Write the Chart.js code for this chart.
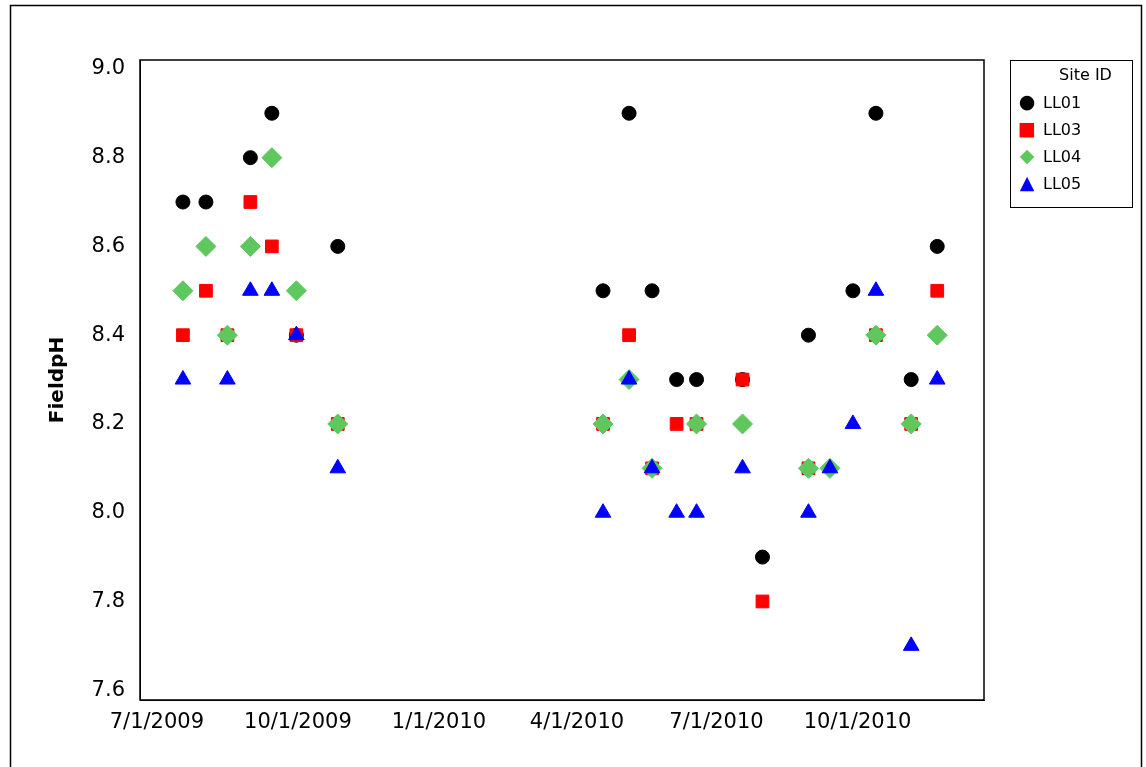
<!DOCTYPE html>
<html><head><meta charset="utf-8">
<script src="https://cdn.jsdelivr.net/npm/chart.js@4/dist/chart.umd.min.js"></script>
<style>
body{margin:0;background:#fff;font-family:"DejaVu Sans",sans-serif}
#wrap{position:relative;width:1146px;height:767px}
#legend{position:absolute;left:1010px;top:60px;width:123px;height:148px;border:1px solid #000;box-sizing:border-box;font-size:16px}
#legend div{height:27px;line-height:27px}
#legend span{display:inline-block;width:32px;text-align:center;font-size:19px}
</style></head><body>
<div id="wrap"><canvas id="c" width="1146" height="767"></canvas>
<div id="legend">
<div style="text-align:center;padding-left:28px">Site ID</div>
<div><span style="color:#000">●</span>LL01</div>
<div><span style="color:#f00">■</span>LL03</div>
<div><span style="color:#5ec85e">◆</span>LL04</div>
<div><span style="color:#00f">▲</span>LL05</div>
</div></div>
<script>
// sampling dates and pH per site (null = no reading)
const dates = ['2009-07-18','2009-08-02','2009-08-16','2009-08-31','2009-09-14','2009-09-30','2009-10-27',
  '2010-04-18','2010-05-05','2010-05-20','2010-06-05','2010-06-18','2010-07-18','2010-07-31','2010-08-30','2010-09-13','2010-09-28','2010-10-13','2010-11-05','2010-11-22'];
const ll01 = [8.7,8.7,8.4,8.8,8.9,8.4,8.6, 8.5,8.9,8.5,8.3,8.3,8.3,7.9,8.4,null,8.5,8.9,8.3,8.6];
const ll03 = [8.4,8.5,8.4,8.7,8.6,8.4,8.2, 8.2,8.4,8.1,8.2,8.2,8.3,7.8,8.1,null,null,8.4,8.2,8.5];
const ll04 = [8.5,8.6,8.4,8.6,8.8,8.5,8.2, 8.2,8.3,8.1,null,8.2,8.2,null,8.1,8.1,null,8.4,8.2,8.4];
const ll05 = [8.3,null,8.3,8.5,8.5,8.4,8.1, 8.0,8.3,8.1,8.0,8.0,8.1,null,8.0,8.1,8.2,8.5,7.7,8.3];
const tickDates = ['2009-07-01','2009-10-01','2010-01-01','2010-04-01','2010-07-01','2010-10-01'];
const yTicks = [7.6,7.8,8.0,8.2,8.4,8.6,8.8,9.0];

const day = s => Date.parse(s) / 86400000;
const pts = arr => dates.map((d, i) => ({x: day(d), y: arr[i]})).filter(p => p.y !== null);
const x0 = day('2009-07-01');

const frame = {
  id: 'frame',
  beforeDraw(c) {
    const g = c.ctx; g.save(); g.fillStyle = '#fff'; g.fillRect(0, 0, c.width, c.height);
    g.strokeStyle = '#000'; g.lineWidth = 1.5; g.strokeRect(10.5, 5.5, 1131, 790); g.restore();
  },
  afterDatasetsDraw(c) {
    const a = c.chartArea, g = c.ctx; g.save(); g.strokeStyle = '#000'; g.lineWidth = 1.5;
    g.strokeRect(a.left, a.top, a.right - a.left, a.bottom - a.top); g.restore();
  }
};

// lower order is drawn on top: LL05 over LL04 over LL03 over LL01
const ds = (label, data, color, style, r, order) => ({label, data: pts(data), backgroundColor: color, borderColor: color,
  pointStyle: style, pointRadius: r, pointHoverRadius: r, order});

new Chart(document.getElementById('c'), {
  type: 'scatter',
  data: {datasets: [
    ds('LL01', ll01, '#000000', 'circle', 7, 4),
    ds('LL03', ll03, '#ff0000', 'rect', 9, 3),
    ds('LL04', ll04, '#5ec85e', 'rectRot', 10, 2),
    ds('LL05', ll05, '#0000ff', 'triangle', 9, 1)
  ]},
  options: {
    responsive: false, animation: false,
    layout: {padding: {top: 60, right: 162, left: 42, bottom: 0}},
    plugins: {legend: {display: false}, tooltip: {enabled: false}},
    scales: {
      x: {type: 'linear', min: x0 - 11, max: x0 + 539.5,
        afterBuildTicks: ax => { ax.ticks = tickDates.map(t => ({value: day(t)})); },
        afterFit: ax => { ax.height = 67; },
        ticks: {color: '#000', font: {family: 'DejaVu Sans', size: 21},
          callback: v => { const d = new Date(v * 86400000); return (d.getUTCMonth() + 1) + '/' + d.getUTCDate() + '/' + d.getUTCFullYear(); }},
        grid: {display: false, drawTicks: true, tickLength: 7, tickColor: '#000'}, border: {color: '#000'}},
      y: {min: 7.578, max: 9.02,
        afterBuildTicks: ax => { ax.ticks = yTicks.map(v => ({value: v})); },
        afterFit: ax => { ax.width = 98; },
        ticks: {color: '#000', padding: 8, font: {family: 'DejaVu Sans', size: 21}, callback: v => v.toFixed(1)},
        title: {display: true, text: 'FieldpH', color: '#000', font: {family: 'DejaVu Sans', size: 20, weight: 'bold'}},
        grid: {display: false, drawTicks: true, tickLength: 7, tickColor: '#000'}, border: {color: '#000'}}
    }
  },
  plugins: [frame]
});
</script></body></html>
